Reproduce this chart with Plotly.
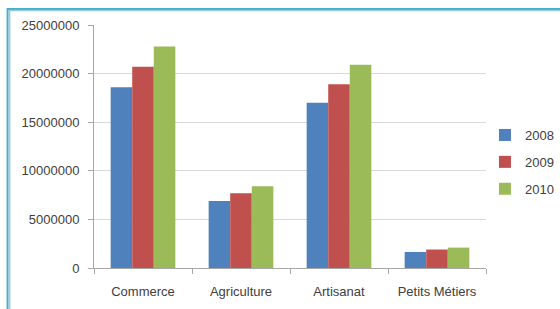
import plotly.graph_objects as go

categories = ["Commerce", "Agriculture", "Artisanat", "Petits Métiers"]
years = ["2008", "2009", "2010"]
values_2008 = [18600000, 6900000, 17000000, 1650000]
values_2009 = [20700000, 7700000, 18900000, 1900000]
values_2010 = [22800000, 8400000, 20900000, 2100000]
colors = ["#4F81BD", "#C0504D", "#9BBB59"]
y_ticks = [0, 5000000, 10000000, 15000000, 20000000, 25000000]

font_family = "Liberation Sans, Arial, sans-serif"
text_color = "#404040"

fig = go.Figure()
for yr, vals, col in zip(years, [values_2008, values_2009, values_2010], colors):
    fig.add_trace(go.Bar(
        x=categories, y=vals, name=yr, legendgroup=yr,
        marker=dict(color=col, line=dict(width=0)),
    ))

fig.update_layout(
    width=560, height=309,
    margin=dict(l=93.6, r=73.6, t=25, b=40.7, autoexpand=False),
    paper_bgcolor="white", plot_bgcolor="white",
    barmode="group", bargap=0.34, bargroupgap=0,
    font=dict(family=font_family, size=13, color=text_color),
    showlegend=True,
    legend=dict(xref="container", yref="container",
                x=0.866, y=0.4757, xanchor="left", yanchor="middle",
                font=dict(size=13, color=text_color), tracegroupgap=7,
                itemwidth=30, bgcolor="rgba(0,0,0,0)"),
    xaxis=dict(
        showgrid=False, showline=True, linecolor="#A6A6A6", linewidth=1,
        ticks="outside", tickson="boundaries", ticklen=5, tickcolor="#A6A6A6",
        tickfont=dict(size=13, color=text_color), ticklabelstandoff=11,
    ),
    yaxis=dict(
        range=[0, 25000000], tickvals=y_ticks, tickformat="d",
        showgrid=True, gridcolor="#D9D9D9", gridwidth=1,
        showline=True, linecolor="#A6A6A6", linewidth=1,
        ticks="outside", ticklen=5, tickcolor="#A6A6A6",
        tickfont=dict(size=13, color=text_color), zeroline=False,
        ticklabelstandoff=6,
    ),
    shapes=[
        dict(type="rect", xref="paper", yref="paper",
             x0=-0.2205, x1=1.4, y0=-0.4, y1=1.0658,
             line=dict(color="#4BACC6", width=2), layer="below"),
        dict(type="rect", xref="paper", yref="paper",
             x0=-0.2154, x1=1.4, y0=-0.4, y1=1.0596,
             line=dict(color="#93CDDD", width=1.5), layer="below"),
    ],
)

fig.write_html("out.html", config={"displayModeBar": False},
               post_script="document.body.style.margin='0';")
